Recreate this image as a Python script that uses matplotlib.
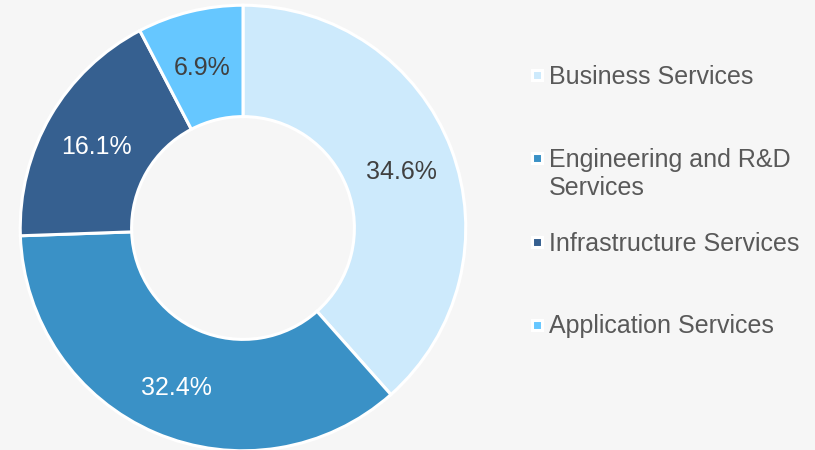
import matplotlib.pyplot as plt
from matplotlib.transforms import offset_copy

plt.rcParams['font.family'] = ['Liberation Sans', 'DejaVu Sans']

# segments of the donut, clockwise from the top
labels = ['Business Services', 'Engineering and R&D\nServices',
          'Infrastructure Services', 'Application Services']
values = [34.6, 32.4, 16.1, 6.9]
colors = ['#cdeafc', '#3a91c6', '#366090', '#66c7ff']
label_colors = ['#404040', 'white', 'white', '#404040']

W, H = 815, 450
fig = plt.figure(figsize=(W / 100, H / 100), dpi=100)
fig.patch.set_facecolor('#f6f6f6')

# donut centre (243, 228) px, outer radius ~225 px
cx, cy, r = 243, 228, 225
ax = fig.add_axes([(cx - r) / W, (H - cy - r) / H, 2 * r / W, 2 * r / H])
ax.set_facecolor('#f6f6f6')

wedges, texts, autotexts = ax.pie(
    values, colors=colors, startangle=90, counterclock=False, radius=1.0,
    autopct='%.1f%%', pctdistance=0.76,
    wedgeprops=dict(width=0.5, edgecolor='white', linewidth=2.2),
    textprops=dict(fontsize=18))
# pie normalizes the values, but the labels show the raw ones
for t, v, c in zip(autotexts, values, label_colors):
    t.set_text(f'{v:.1f}%')
    t.set_color(c)
    t.set_transform(offset_copy(ax.transData, fig=fig, y=-4, units='dots'))
ax.set_xlim(-1.01, 1.01)
ax.set_ylim(-1.01, 1.01)
ax.set_aspect('equal')
ax.axis('off')

# hand-placed legend
marker_y = [75, 158, 242, 325]
text_y = [84, 167, 251, 333]
for lab, col, my, ty in zip(labels, colors, marker_y, text_y):
    fig.lines.append(plt.Line2D([537 / W], [1 - my / H], transform=fig.transFigure,
                                marker='s', markersize=7.5, markerfacecolor=col,
                                markeredgecolor='white', markeredgewidth=2.2,
                                linestyle='none'))
    for i, line in enumerate(lab.split('\n')):
        fig.text(549 / W, 1 - (ty + 28 * i) / H, line, fontsize=18,
                 color='#595959', ha='left', va='baseline')

fig.savefig('out.png', dpi=100, facecolor=fig.get_facecolor())
